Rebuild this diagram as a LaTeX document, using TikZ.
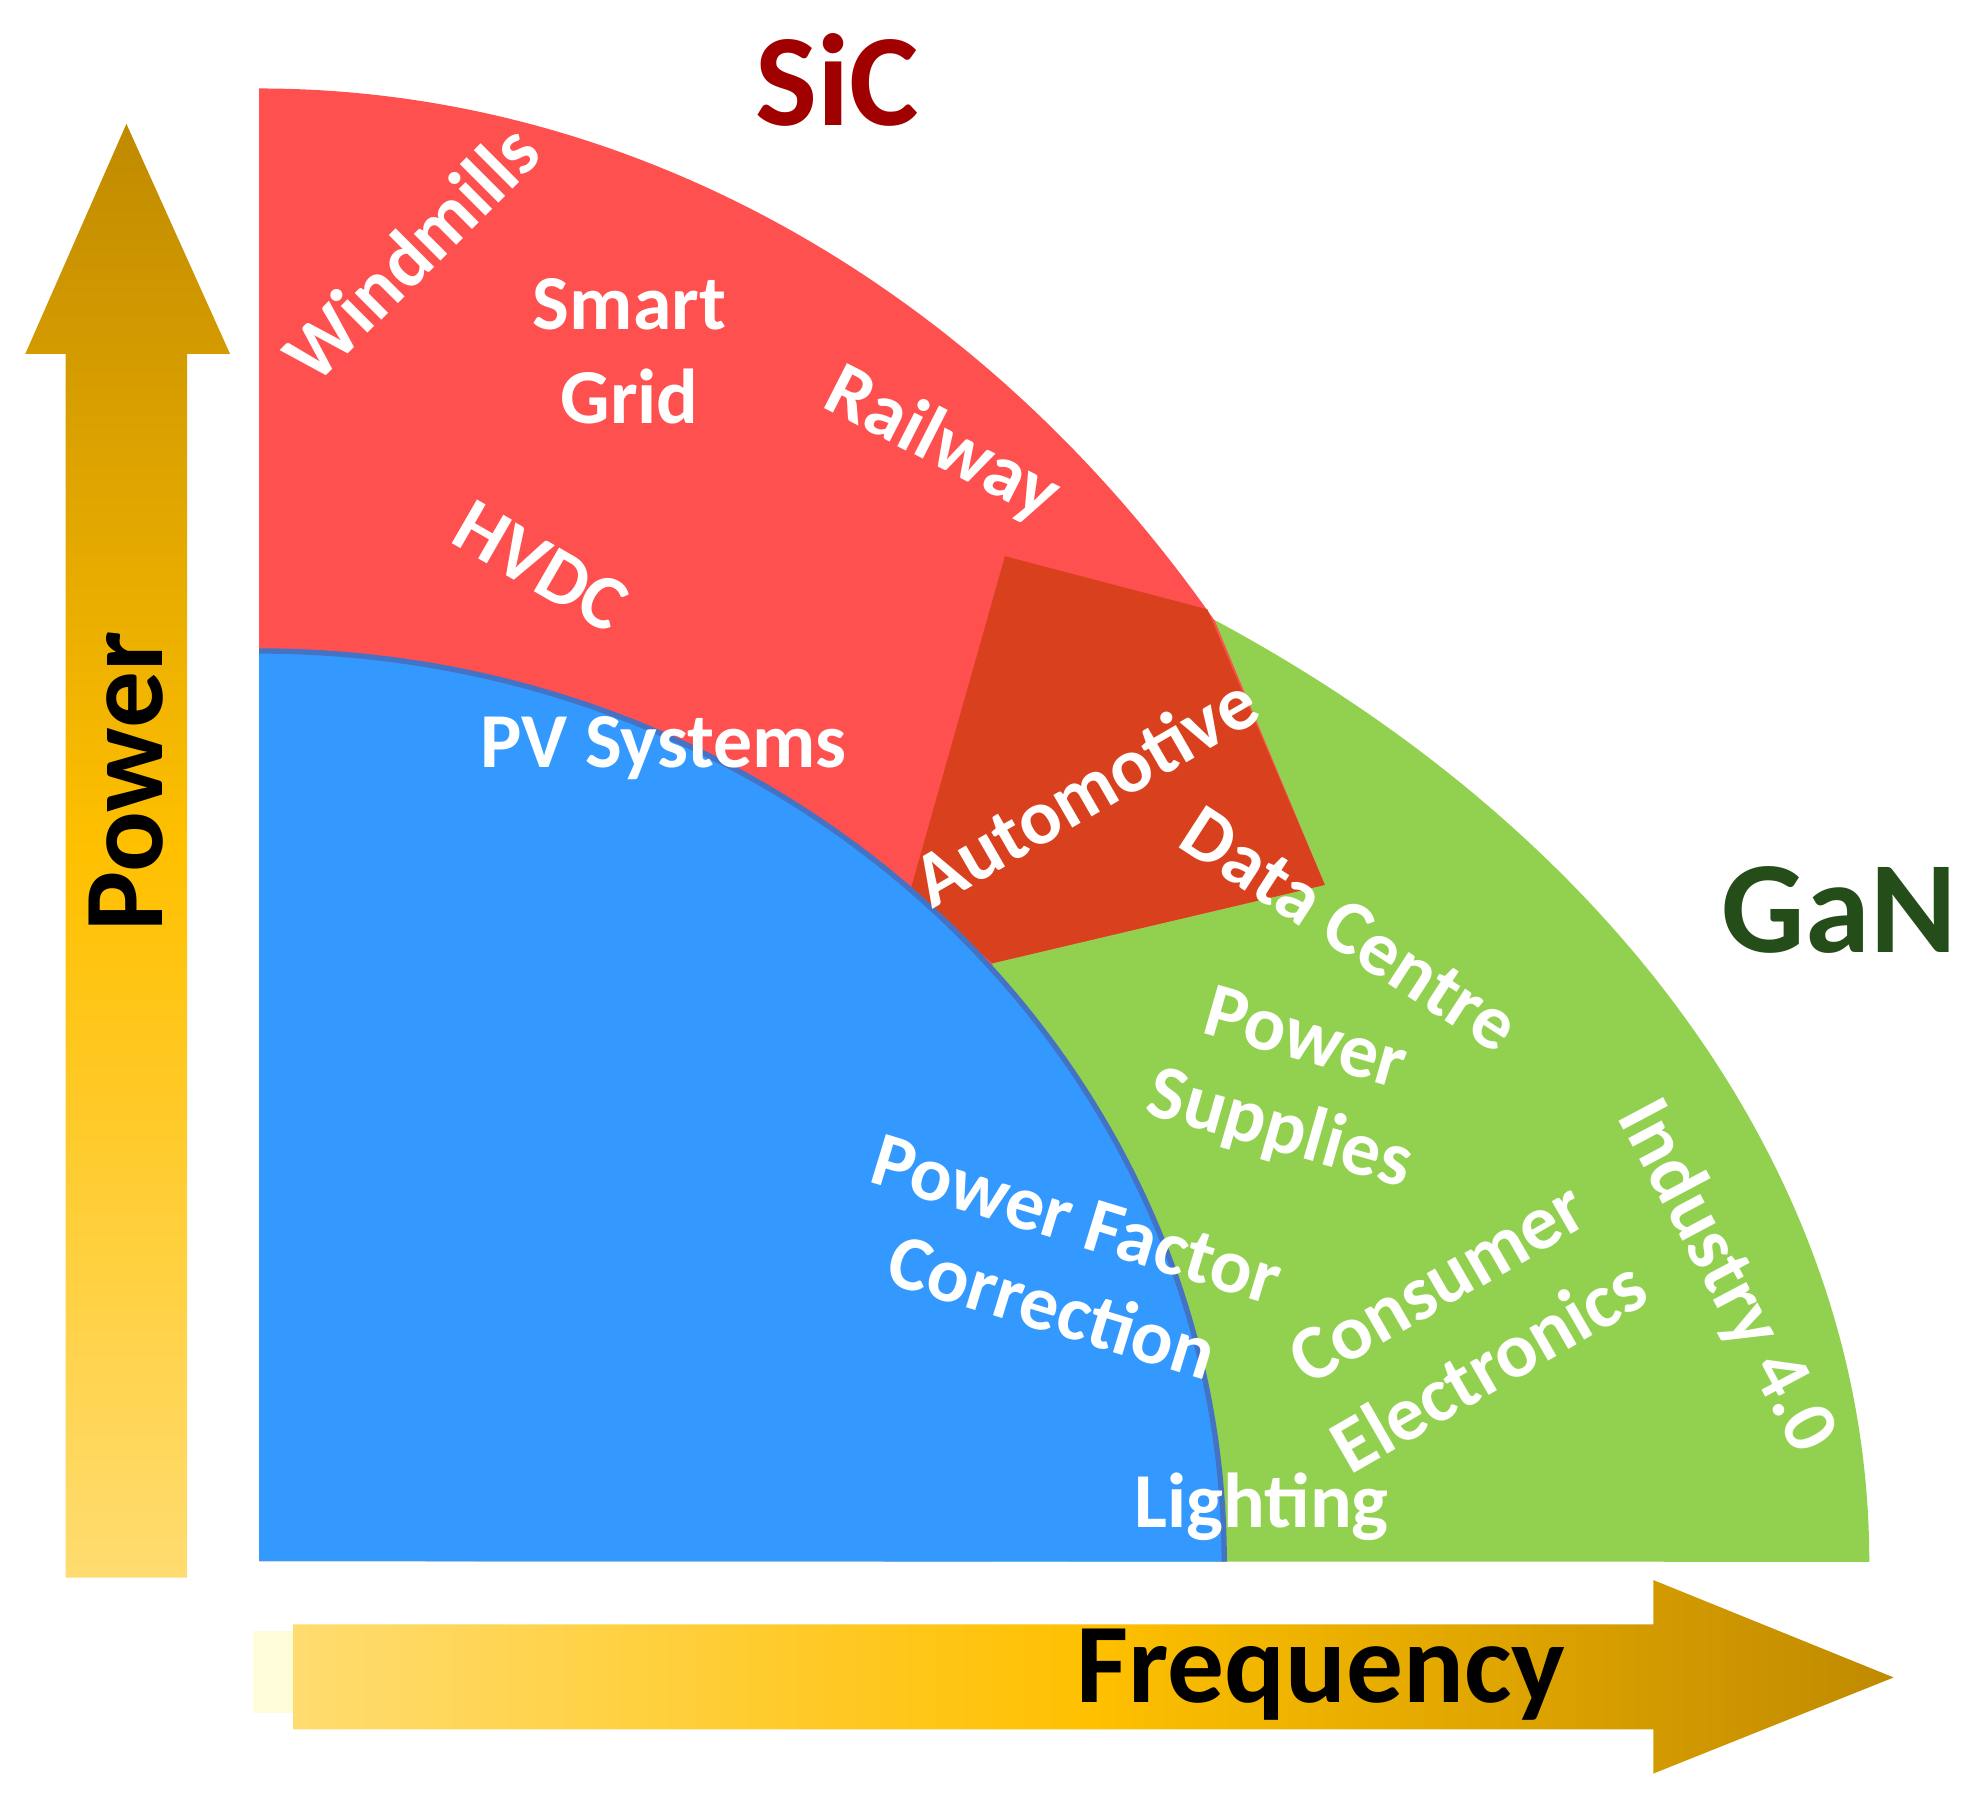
\documentclass[tikz,border=0pt]{standalone}
\usepackage{fontspec}
\setmainfont{Carlito}
\begin{document}
\begin{tikzpicture}[x=0.01cm,y=0.01cm,
  lbl/.style={text=white,font=\bfseries\fontsize{17.5}{19}\selectfont,inner sep=0pt,align=center},
  big/.style={font=\bfseries\fontsize{29.5}{32}\selectfont,inner sep=0pt},
  axl/.style={font=\bfseries\fontsize{25.5}{28}\selectfont,inner sep=0pt,text=black}]
\definecolor{cred}{HTML}{FF5050}
\definecolor{cgreen}{HTML}{92D050}
\definecolor{cblue}{HTML}{3399FF}
\definecolor{cedge}{HTML}{4472C4}
\definecolor{cdark}{HTML}{D9411E}
\definecolor{gold}{HTML}{C08A00}
\definecolor{lgold}{HTML}{FFDC70}
\definecolor{mgold}{HTML}{FFC000}
\useasboundingbox (0,0) rectangle (1560,1418);
\fill[white] (0,0) rectangle (1560,1418);
% axes arrows
\shade[top color=gold,bottom color=lgold,middle color=mgold] (52,170) -- (52,1138) -- (20,1138) -- (100,1320) -- (182,1138) -- (148,1138) -- (148,170) -- cycle;
\fill[yellow!15] (200,63) rectangle (232,128);
\shade[left color=lgold,right color=gold,middle color=mgold] (232,50) -- (232,133) -- (1308,133) -- (1308,168) -- (1498,91) -- (1308,15) -- (1308,50) -- cycle;
% regions
\fill[cgreen] (205,183) -- (205,1108) arc[start angle=90,end angle=0,x radius=12.73cm,y radius=9.25cm] -- cycle;
\fill[cred] (205,183) -- (205,1348) arc[start angle=90,end angle=39.7,x radius=9.82cm,y radius=11.65cm] -- (1048,718) -- (785,656) -- (785,183) -- cycle;
\fill[cdark] (795,978) -- (955,936) -- (1048,718) -- (785,656) -- (720,713) -- cycle;
\fill[cblue] (205,183) -- (205,903) arc[start angle=90,end angle=0,x radius=7.63cm,y radius=7.2cm] -- cycle;
\draw[cedge,line width=1.2pt] (205,903) arc[start angle=90,end angle=0,x radius=7.63cm,y radius=7.2cm];
% labels
\node[lbl,rotate=45] (wind) at (325,1218) {Windmills};
\node[lbl] (smart) at (498,1140) {Smart\\[2pt]Grid};
\node[lbl,rotate=-27] (rail) at (745,1066) {Railway};
\node[lbl,rotate=-30] (hvdc) at (428,970) {HVDC};
\node[lbl] (pv) at (525,826) {PV Systems};
\node[lbl,rotate=30] (auto) at (858,793) {Automotive};
\node[lbl,rotate=-33] (data) at (1068,683) {Data Centre};
\node[lbl,rotate=-16] (psup) at (1022,558) {Power\\[2pt]Supplies};
\node[lbl,rotate=-17] (pf1) at (852,453) {Power Factor};
\node[lbl,rotate=-17] (pf2) at (833,385) {Correction};
\node[lbl,rotate=30] (ce1) at (1137,403) {Consumer};
\node[lbl,rotate=30] (ce2) at (1177,338) {Electronics};
\node[lbl,rotate=-62] (ind) at (1365,408) {Industry 4.0};
\node[lbl] (light) at (998,226) {Lighting};
\node[axl,rotate=90] (power) at (100,800) {Power};
\node[axl] (freq) at (1045,93) {Frequency};
\node[big,text={rgb,255:red,160;green,0;blue,0}] (sic) at (662,1355) {SiC};
\node[big,text={rgb,255:red,37;green,77;blue,26}] (gan) at (1455,698) {GaN};
\end{tikzpicture}
\end{document}
